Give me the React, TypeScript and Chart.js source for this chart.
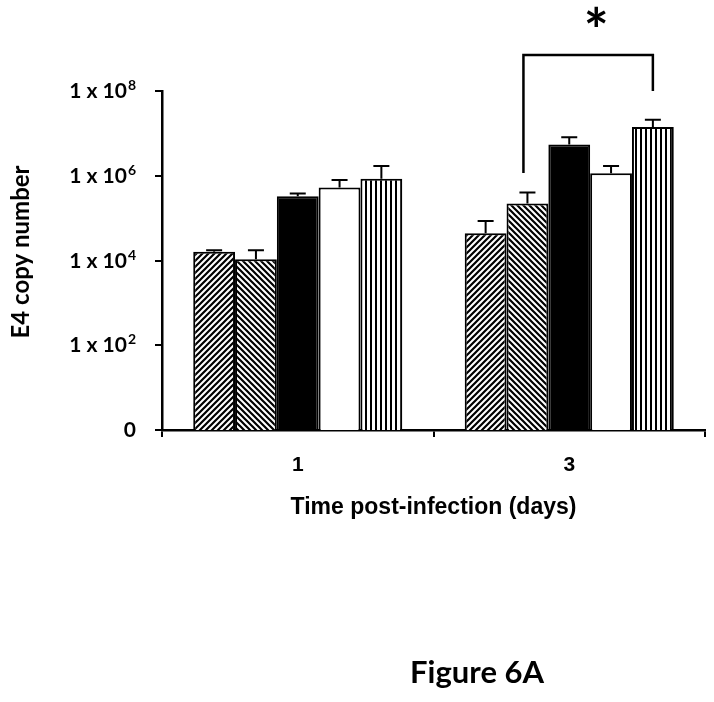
import React, { useEffect, useRef } from "react";
import { Chart, registerables } from "chart.js";

Chart.register(...registerables);

// ---- data ----
const categories = ["1", "3"];
const seriesNames = ["Group 1", "Group 2", "Group 3", "Group 4", "Group 5"];
const series1 = [1.6e4, 4.4e4];
const series2 = [1.07e4, 2.2e5];
const series3 = [3.3e5, 5.5e6];
const series4 = [5.3e5, 1.15e6];
const series5 = [8.5e5, 1.42e7];
// upper end of each error bar
const series1Upper = [1.75e4, 8.5e4];
const series2Upper = [1.75e4, 4.0e5];
const series3Upper = [3.8e5, 8.1e6];
const series4Upper = [7.9e5, 1.7e6];
const series5Upper = [1.7e6, 2.1e7];

const yTickValues = [1, 1e2, 1e4, 1e6, 1e8];
const yTickBase = ["0", "1 x 10", "1 x 10", "1 x 10", "1 x 10"];
const yTickExp = ["", "2", "4", "6", "8"];

// significance bracket: [category index, left series, right series]
const bracketPos = [1, 1, 4];
// bracket levels: left leg end, top, right leg end
const bracketLevels = [1.16e6, 7.1e8, 1.0e8];
const starLevel = 5.7e9;
const significance = "*";

const yTitle = "E4 copy number";
const xTitle = "Time post-infection (days)";
const figureLabel = "Figure 6A";

function diagPattern(dir: "/" | "\\") {
  const s = 6;
  const c = document.createElement("canvas");
  c.width = s;
  c.height = s;
  const ctx = c.getContext("2d")!;
  ctx.fillStyle = "#fff";
  ctx.fillRect(0, 0, s, s);
  ctx.strokeStyle = "#000";
  ctx.lineWidth = 2.2;
  ctx.beginPath();
  if (dir === "/") {
    ctx.moveTo(0, s); ctx.lineTo(s, 0);
    ctx.moveTo(-1, 1); ctx.lineTo(1, -1);
    ctx.moveTo(s - 1, s + 1); ctx.lineTo(s + 1, s - 1);
  } else {
    ctx.moveTo(0, 0); ctx.lineTo(s, s);
    ctx.moveTo(-1, s - 1); ctx.lineTo(1, s + 1);
    ctx.moveTo(s - 1, -1); ctx.lineTo(s + 1, 1);
  }
  ctx.stroke();
  return ctx.createPattern(c, "repeat")!;
}

function vertPattern() {
  const c = document.createElement("canvas");
  c.width = 5;
  c.height = 5;
  const ctx = c.getContext("2d")!;
  ctx.fillStyle = "#fff";
  ctx.fillRect(0, 0, 5, 5);
  ctx.fillStyle = "#000";
  ctx.fillRect(0, 0, 2, 5);
  return ctx.createPattern(c, "repeat")!;
}

const uppers = [series1Upper, series2Upper, series3Upper, series4Upper, series5Upper];

const annotations = {
  id: "annotations",
  afterDatasetsDraw(chart: any) {
    const ctx = chart.ctx;
    const y = chart.scales.y;
    ctx.save();
    ctx.strokeStyle = "#000";
    ctx.lineWidth = 2;
    uppers.forEach((arr, i) => {
      const meta = chart.getDatasetMeta(i);
      arr.forEach((v, j) => {
        const bar = meta.data[j];
        const yy = y.getPixelForValue(v);
        ctx.beginPath();
        ctx.moveTo(bar.x, bar.y);
        ctx.lineTo(bar.x, yy);
        ctx.moveTo(bar.x - 8, yy);
        ctx.lineTo(bar.x + 8, yy);
        ctx.stroke();
      });
    });
    ctx.restore();
  },
  afterDraw(chart: any) {
    const ctx = chart.ctx;
    const y = chart.scales.y;
    ctx.save();
    ctx.fillStyle = "#000";
    // y tick labels with superscripts
    const baseFont = "bold 21px Lato";
    const supFont = "bold 14px Lato";
    yTickValues.forEach((v, i) => {
      const py = y.getPixelForValue(v);
      ctx.font = baseFont;
      const wb = ctx.measureText(yTickBase[i]).width;
      ctx.font = supFont;
      const ws = yTickExp[i] ? ctx.measureText(yTickExp[i]).width + 1 : 0;
      const right = 136;
      const x0 = right - wb - ws;
      ctx.textBaseline = "alphabetic";
      ctx.textAlign = "left";
      ctx.font = baseFont;
      ctx.fillText(yTickBase[i], x0, py + 7);
      if (yTickExp[i]) {
        ctx.font = supFont;
        ctx.fillText(yTickExp[i], x0 + wb + 1, py - 1);
      }
    });

    // y axis title
    ctx.save();
    ctx.translate(21, 252);
    ctx.rotate(-Math.PI / 2);
    ctx.font = "bold 24px Lato";
    ctx.textAlign = "center";
    ctx.textBaseline = "middle";
    ctx.fillText(yTitle, 0, 0);
    ctx.restore();

    // bracket
    const [cat, s1, s2] = bracketPos;
    const xl = chart.getDatasetMeta(s1).data[cat].x - 4;
    const xr = chart.getDatasetMeta(s2).data[cat].x;
    const yl = y.getPixelForValue(bracketLevels[0]);
    const yt = y.getPixelForValue(bracketLevels[1]);
    const yr = y.getPixelForValue(bracketLevels[2]);
    ctx.strokeStyle = "#000";
    ctx.lineWidth = 2.5;
    ctx.beginPath();
    ctx.moveTo(xl, yl);
    ctx.lineTo(xl, yt);
    ctx.lineTo(xr, yt);
    ctx.lineTo(xr, yr);
    ctx.stroke();

    // star: fit glyph to ~20px tall
    ctx.font = "bold 100px Lato";
    const m = ctx.measureText(significance);
    const gh = m.actualBoundingBoxAscent + m.actualBoundingBoxDescent;
    const size = (20 / gh) * 100;
    ctx.font = `bold ${size}px Lato`;
    const m2 = ctx.measureText(significance);
    const cy = y.getPixelForValue(starLevel);
    const cx = (xl + xr) / 2 + 8;
    const by = cy + (m2.actualBoundingBoxAscent - m2.actualBoundingBoxDescent) / 2;
    const bx = cx - (m2.actualBoundingBoxRight - m2.actualBoundingBoxLeft) / 2;
    ctx.textAlign = "left";
    ctx.textBaseline = "alphabetic";
    ctx.fillText(significance, bx, by);

    // figure label
    ctx.font = "bold 31px Lato";
    ctx.textAlign = "center";
    ctx.textBaseline = "alphabetic";
    ctx.fillText(figureLabel, 477, 683);
    ctx.restore();
  },
};

export default function App() {
  const ref = useRef<HTMLCanvasElement>(null);
  useEffect(() => {
    const canvas = ref.current!;
    const fills = [diagPattern("/"), diagPattern("\\"), "#000", "#fff", vertPattern()];
    const values = [series1, series2, series3, series4, series5];
    const chart = new Chart(canvas, {
      type: "bar",
      data: {
        labels: categories,
        datasets: values.map((d, i) => ({
          label: seriesNames[i],
          data: d,
          backgroundColor: fills[i] as any,
          borderColor: "#000",
          borderWidth: 2,
          categoryPercentage: 0.77,
          barPercentage: 1,
        })),
      },
      options: {
        animation: false,
        responsive: false,
        devicePixelRatio: 1,
        layout: { padding: { top: 91, left: 0, right: 9, bottom: 181 } },
        plugins: { legend: { display: false }, tooltip: { enabled: false }, title: { display: false } },
        scales: {
          x: {
            grid: { display: true, drawOnChartArea: false, drawTicks: true, tickLength: 7, color: "#000", lineWidth: 2, offset: true },
            border: { display: true, color: "#000", width: 2.5 },
            ticks: { color: "#000", font: { family: "'Liberation Sans', Arial", weight: "bold", size: 21 }, padding: 16 },
            title: { display: true, text: xTitle, color: "#000", font: { family: "'Liberation Sans', Arial", weight: "bold", size: 23 }, padding: 0 },
            afterFit: (s: any) => { s.height = 91; },
          },
          y: {
            type: "logarithmic",
            min: 1,
            max: 1e8,
            afterBuildTicks: (s: any) => { s.ticks = yTickValues.map((v) => ({ value: v })); },
            grid: { display: true, drawOnChartArea: false, drawTicks: true, tickLength: 7, color: "#000", lineWidth: 2 },
            border: { display: true, color: "#000", width: 2.5 },
            ticks: { display: false },
            title: { display: false },
            afterFit: (s: any) => { s.width = 162; },
          },
        },
      },
      plugins: [annotations],
    });
    return () => chart.destroy();
  }, []);
  return (
    <canvas
      ref={ref}
      width={714}
      height={702}
      style={{ position: "fixed", left: 0, top: 0, width: 714, height: 702, background: "#fff" }}
    />
  );
}
